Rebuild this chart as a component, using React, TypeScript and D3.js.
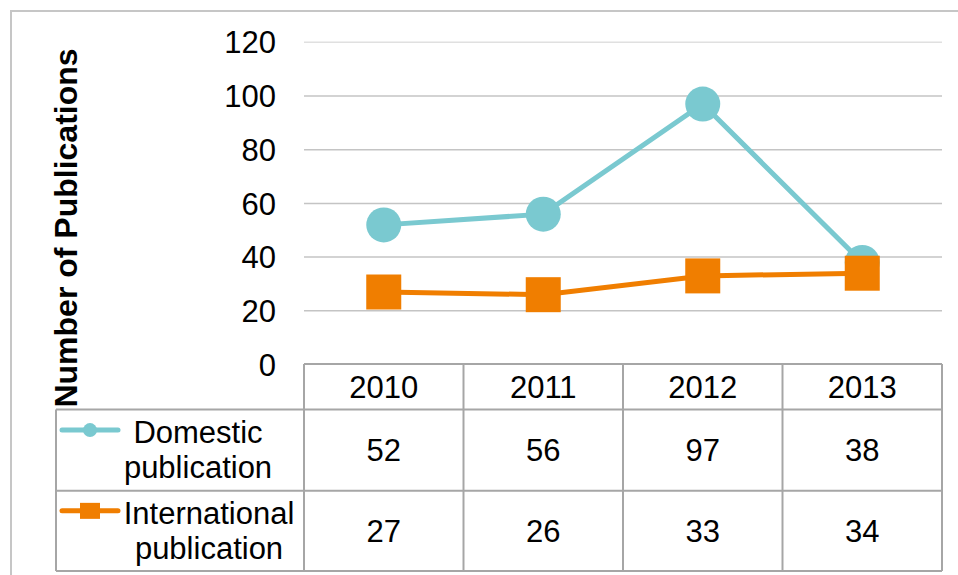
import React from "react";
import * as d3 from "d3";

const categories = ["2010", "2011", "2012", "2013"];
const domestic = [52, 56, 97, 38];
const international = [27, 26, 33, 34];
const yTicks = [0, 20, 40, 60, 80, 100, 120];
const seriesNames = [["Domestic", "publication"], ["International", "publication"]];
const axisTitle = "Number of Publications";

const W = 958;
const H = 575;
const FONT = "'Liberation Sans', Arial, sans-serif";
const TEAL = "#7ac9d0";
const ORANGE = "#f07e00";

export default function App() {
  const x = d3.scaleBand<string>().domain(categories).range([304, 942]).paddingInner(0).paddingOuter(0);
  const y = d3.scaleLinear().domain([0, 120]).range([364.5, 42.3]);
  const cx = (c: string) => (x(c) as number) + x.bandwidth() / 2;

  const line = d3
    .line<number>()
    .x((_, i) => cx(categories[i]))
    .y((d) => y(d));

  const rowTops = [364, 409.5, 490.7, 571];
  const colEdges = [...categories.map((c) => x(c) as number), 942];
  const tableStroke = "#a6a6a6";
  const fs = 31;

  const legendCenters = [198, 209];

  return (
    <div style={{ position: "absolute", left: 0, top: 0 }}>
      <svg width={W} height={H} style={{ display: "block", background: "#fff" }}>
        <rect x={0} y={0} width={W} height={H} fill="#fff" />
        {/* outer border */}
        <rect x={11} y={11} width={W + 20} height={H + 20} fill="none" stroke="#c6c6c6" strokeWidth={2} />

        {/* gridlines */}
        {yTicks.filter((t) => t > 0).map((t) => (
          <line key={t} x1={304} x2={942} y1={y(t)} y2={y(t)} stroke={t === 120 ? "#e0e0e0" : "#c4c4c4"} strokeWidth={1.5} />
        ))}

        {/* y tick labels */}
        {yTicks.map((t) => (
          <text key={t} x={276} y={y(t)} dy="0.36em" textAnchor="end" fontFamily={FONT} fontSize={fs} fill="#000">
            {t}
          </text>
        ))}

        {/* axis title */}
        <text
          transform={`translate(${65},${228}) rotate(-90)`}
          textAnchor="middle"
          dy="0.36em"
          fontFamily={FONT}
          fontSize={32}
          fontWeight="bold"
          fill="#000"
        >
          {axisTitle}
        </text>

        {/* lines */}
        <path d={line(domestic) || ""} fill="none" stroke={TEAL} strokeWidth={5} />
        {domestic.map((v, i) => (
          <circle key={i} cx={cx(categories[i])} cy={y(v)} r={17.5} fill={TEAL} />
        ))}
        <path d={line(international) || ""} fill="none" stroke={ORANGE} strokeWidth={5} />
        {international.map((v, i) => (
          <rect key={i} x={cx(categories[i]) - 17.5} y={y(v) - 17.5} width={35} height={35} fill={ORANGE} />
        ))}

        {/* data table */}
        <g stroke={tableStroke} strokeWidth={2} fill="none">
          <line x1={304} x2={942} y1={rowTops[0]} y2={rowTops[0]} />
          <line x1={56} x2={942} y1={rowTops[1]} y2={rowTops[1]} />
          <line x1={56} x2={942} y1={rowTops[2]} y2={rowTops[2]} />
          <line x1={56} x2={942} y1={rowTops[3]} y2={rowTops[3]} />
          <line x1={56} x2={56} y1={rowTops[1]} y2={rowTops[3]} />
          {colEdges.map((e, i) => (
            <line key={i} x1={e} x2={e} y1={rowTops[0]} y2={rowTops[3]} />
          ))}
        </g>

        {categories.map((c) => (
          <text key={c} x={cx(c)} y={(rowTops[0] + rowTops[1]) / 2} dy="0.36em" textAnchor="middle" fontFamily={FONT} fontSize={fs} fill="#000">
            {c}
          </text>
        ))}
        {[domestic, international].map((series, r) =>
          series.map((v, i) => (
            <text
              key={`${r}-${i}`}
              x={cx(categories[i])}
              y={(rowTops[r + 1] + rowTops[r + 2]) / 2}
              dy="0.36em"
              textAnchor="middle"
              fontFamily={FONT}
              fontSize={fs}
              fill="#000"
            >
              {v}
            </text>
          ))
        )}

        {/* legend keys + names */}
        {seriesNames.map((name, r) => {
          const top = rowTops[r + 1];
          const bottom = rowTops[r + 2];
          const mid = (top + bottom) / 2;
          const l1 = mid - 18;
          const l2 = mid + 17;
          const color = r === 0 ? TEAL : ORANGE;
          const keyY = l1 - 2;
          return (
            <g key={r}>
              <line x1={62} x2={118} y1={keyY} y2={keyY} stroke={color} strokeWidth={5} strokeLinecap="round" />
              {r === 0 ? (
                <circle cx={90} cy={keyY} r={7} fill={color} />
              ) : (
                <rect x={80} y={keyY - 8} width={20} height={16} fill={color} />
              )}
              <text x={legendCenters[r]} y={l1} dy="0.36em" textAnchor="middle" fontFamily={FONT} fontSize={fs} fill="#000">
                {name[0]}
              </text>
              <text x={legendCenters[r]} y={l2} dy="0.36em" textAnchor="middle" fontFamily={FONT} fontSize={fs} fill="#000">
                {name[1]}
              </text>
            </g>
          );
        })}
      </svg>
    </div>
  );
}
